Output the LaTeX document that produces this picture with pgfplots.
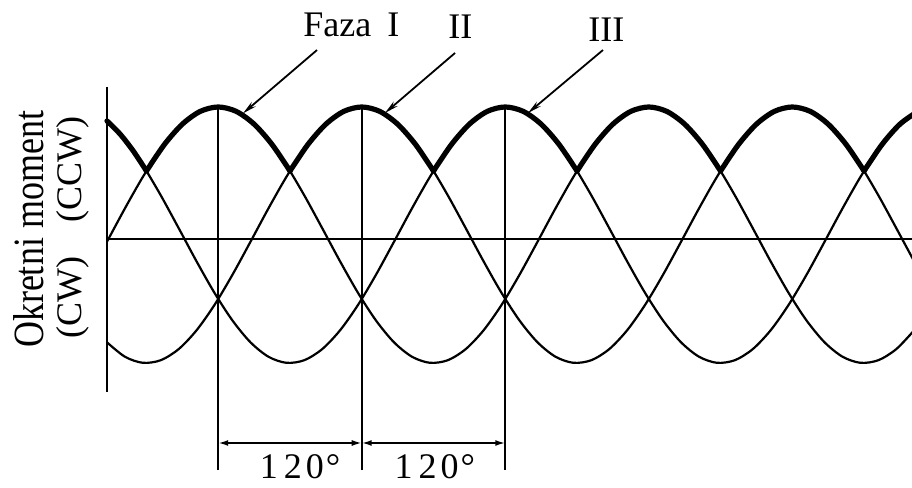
\documentclass[border=0pt]{standalone}
\usepackage{pgfplots}
\pgfplotsset{compat=1.18}
\usepackage{pgfplotstable}
\usepackage{fontspec}
\setmainfont{Liberation Serif}
\usetikzlibrary{arrows.meta}

% x: electrical angle (deg), y: normalised torque of each phase
\pgfplotstableread{
x I II III
0 -0.0523 -0.8387 0.8910
15 0.2079 -0.9511 0.7431
30 0.4540 -0.9986 0.5446
45 0.6691 -0.9781 0.3090
60 0.8387 -0.8910 0.0523
75 0.9511 -0.7431 -0.2079
90 0.9986 -0.5446 -0.4540
105 0.9781 -0.3090 -0.6691
120 0.8910 -0.0523 -0.8387
135 0.7431 0.2079 -0.9511
150 0.5446 0.4540 -0.9986
165 0.3090 0.6691 -0.9781
180 0.0523 0.8387 -0.8910
195 -0.2079 0.9511 -0.7431
210 -0.4540 0.9986 -0.5446
225 -0.6691 0.9781 -0.3090
240 -0.8387 0.8910 -0.0523
255 -0.9511 0.7431 0.2079
270 -0.9986 0.5446 0.4540
285 -0.9781 0.3090 0.6691
300 -0.8910 0.0523 0.8387
315 -0.7431 -0.2079 0.9511
330 -0.5446 -0.4540 0.9986
345 -0.3090 -0.6691 0.9781
360 -0.0523 -0.8387 0.8910
375 0.2079 -0.9511 0.7431
390 0.4540 -0.9986 0.5446
405 0.6691 -0.9781 0.3090
420 0.8387 -0.8910 0.0523
435 0.9511 -0.7431 -0.2079
450 0.9986 -0.5446 -0.4540
465 0.9781 -0.3090 -0.6691
480 0.8910 -0.0523 -0.8387
495 0.7431 0.2079 -0.9511
510 0.5446 0.4540 -0.9986
525 0.3090 0.6691 -0.9781
540 0.0523 0.8387 -0.8910
555 -0.2079 0.9511 -0.7431
570 -0.4540 0.9986 -0.5446
585 -0.6691 0.9781 -0.3090
600 -0.8387 0.8910 -0.0523
615 -0.9511 0.7431 0.2079
630 -0.9986 0.5446 0.4540
645 -0.9781 0.3090 0.6691
660 -0.8910 0.0523 0.8387
675 -0.7431 -0.2079 0.9511
}\phases

\begin{document}
\begin{tikzpicture}
\begin{axis}[
  scale only axis, width=456pt, height=244pt,
  xmin=-89.46, xmax=673.08, ymin=-1.9766, ymax=1.8359,
  hide axis, clip mode=individual,
  every axis plot/.append style={black, smooth, no markers, line join=round, line cap=round},
]
% thin phase curves
\addplot[line width=1.1pt] table[x=x,y=I]{\phases};
\addplot[line width=1.1pt] table[x=x,y=II]{\phases};
\addplot[line width=1.1pt] table[x=x,y=III]{\phases};
% thick upper envelope
\addplot[line width=2.6pt] coordinates {(0,0.8910)(11,0.7880)(22,0.6561)(33,0.5)};
\addplot[line width=2.6pt] coordinates {(33,0.5)(48,0.7071)(63,0.8660)(78,0.9659)(93,1)(108,0.9659)(123,0.8660)(138,0.7071)(153,0.5)};
\addplot[line width=2.6pt] coordinates {(153,0.5)(168,0.7071)(183,0.8660)(198,0.9659)(213,1)(228,0.9659)(243,0.8660)(258,0.7071)(273,0.5)};
\addplot[line width=2.6pt] coordinates {(273,0.5)(288,0.7071)(303,0.8660)(318,0.9659)(333,1)(348,0.9659)(363,0.8660)(378,0.7071)(393,0.5)};
\addplot[line width=2.6pt] coordinates {(393,0.5)(408,0.7071)(423,0.8660)(438,0.9659)(453,1)(468,0.9659)(483,0.8660)(498,0.7071)(513,0.5)};
\addplot[line width=2.6pt] coordinates {(513,0.5)(528,0.7071)(543,0.8660)(558,0.9659)(573,1)(588,0.9659)(603,0.8660)(618,0.7071)(633,0.5)};
\addplot[line width=2.6pt] coordinates {(633,0.5)(648,0.7071)(663,0.8660)(678,0.9659)};

% axes lines
\draw[line width=1pt] (axis cs:0,-0.03125) -- (axis cs:673.08,-0.03125);
\draw[line width=1.1pt] (axis cs:0,1.15625) -- (axis cs:0,-1.2266);
% peak markers
\draw[line width=0.9pt] (axis cs:93,1) -- (axis cs:93,-1.836);
\draw[line width=0.9pt] (axis cs:213,1) -- (axis cs:213,-1.836);
\draw[line width=0.9pt] (axis cs:333,1) -- (axis cs:333,-1.836);
% dimension lines
\draw[line width=0.9pt,{Latex[length=5pt,width=3pt]}-{Latex[length=5pt,width=3pt]}] (axis cs:93,-1.625) -- (axis cs:213,-1.625);
\draw[line width=0.9pt,{Latex[length=5pt,width=3pt]}-{Latex[length=5pt,width=3pt]}] (axis cs:213,-1.625) -- (axis cs:333,-1.625);
\node[anchor=base,inner sep=0pt,font=\fontsize{18}{20}\selectfont] at (axis cs:161.4,-1.90) {1\kern3pt2\kern2pt0\kern1pt°};
\node[anchor=base,inner sep=0pt,font=\fontsize{18}{20}\selectfont] at (axis cs:274.2,-1.90) {1\kern3pt2\kern2pt0\kern1pt°};
% phase pointers
\draw[line width=0.9pt,-{Stealth[length=7pt,width=3pt]}] (axis cs:175.6,1.445) -- (axis cs:113.7,0.95);
\draw[line width=0.9pt,-{Stealth[length=7pt,width=3pt]}] (axis cs:291.0,1.422) -- (axis cs:232.4,0.953);
\draw[line width=0.9pt,-{Stealth[length=7pt,width=3pt]}] (axis cs:414.7,1.445) -- (axis cs:352.0,0.953);
\node[anchor=base west,inner sep=0pt,font=\fontsize{18}{20}\selectfont] at (axis cs:163.9,1.547) {Faza\hspace{8pt}I};
\node[anchor=base west,inner sep=0pt,font=\fontsize{18}{20}\selectfont] at (axis cs:285.1,1.539) {II};
\node[anchor=base west,inner sep=0pt,font=\fontsize{18}{20}\selectfont] at (axis cs:402.2,1.508) {III};
% y label
\node[rotate=90,anchor=base,inner sep=0pt,font=\fontsize{18}{20}\selectfont] at (axis cs:-53.5,0.043) {\scalebox{1}[1.2]{Okretni moment}};
\node[rotate=90,anchor=base,inner sep=0pt,font=\fontsize{18}{20}\selectfont] at (axis cs:-21.3,0.508) {(CCW)};
\node[rotate=90,anchor=base,inner sep=0pt,font=\fontsize{18}{20}\selectfont] at (axis cs:-21.3,-0.492) {(CW)};
\end{axis}
\pgfresetboundingbox
\useasboundingbox (current axis.south west) rectangle (current axis.north east);
\end{tikzpicture}
\end{document}
